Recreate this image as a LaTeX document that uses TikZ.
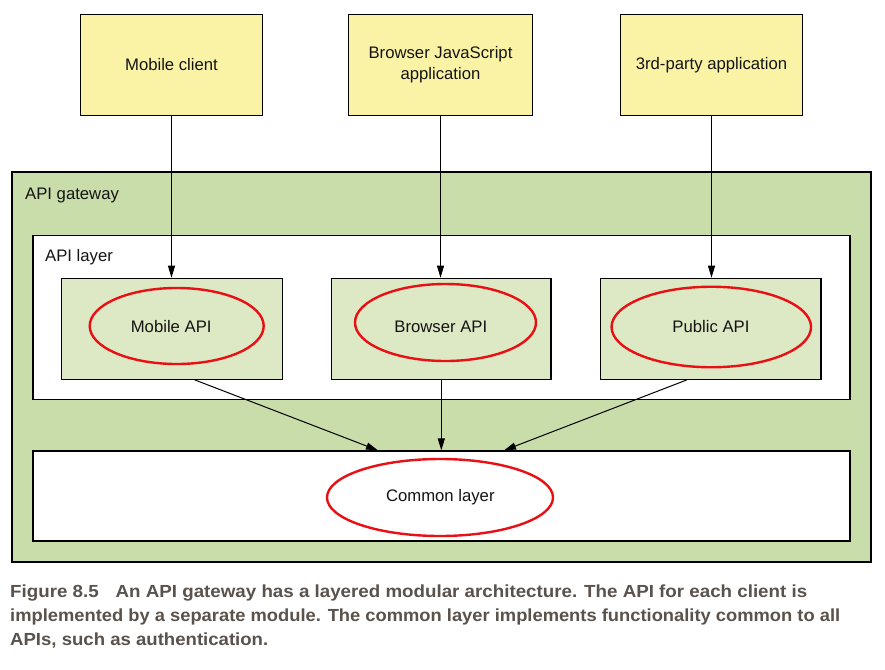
\documentclass[tikz,border=0pt]{standalone}
\usepackage{fontspec}
\setmainfont{Liberation Sans}
\newfontfamily\capfont{Liberation Sans}
\usetikzlibrary{arrows.meta,shapes.geometric}
\definecolor{clientyellow}{RGB}{250,243,166}
\definecolor{gwgreen}{RGB}{201,221,170}
\definecolor{modgreen}{RGB}{221,232,196}
\definecolor{ellred}{RGB}{232,16,20}
\definecolor{captext}{RGB}{90,82,76}
\definecolor{txt}{RGB}{20,20,20}
\tikzset{
  boxline/.style={draw=black, line width=1.2pt},
  clientbox/.style={boxline, fill=clientyellow, minimum width=182pt, minimum height=101pt, inner sep=0pt},
  modbox/.style={boxline, fill=modgreen, minimum width=221pt, minimum height=101pt, inner sep=0pt},
  apiell/.style={ellipse, draw=ellred, line width=2.4pt, inner sep=0pt},
  lbl/.style={font=\fontsize{16.7pt}{21pt}\selectfont, text=txt, inner sep=0pt, align=center},
  arr/.style={line width=1pt, -{Triangle[length=12pt,width=7pt]}},
  capline/.style={anchor=base west, inner sep=0pt, text=captext, font=\capfont\bfseries\fontsize{17.5pt}{24pt}\selectfont}
}
\begin{document}
\begin{tikzpicture}[x=1pt,y=-1pt]
\useasboundingbox (0,0) rectangle (885,669);
\fill[white] (0,0) rectangle (885,669);

% gateway and layers
\node[boxline, fill=gwgreen, minimum width=859pt, minimum height=390pt, inner sep=0pt] (gw) at (441.5,367) {};
\node[boxline, fill=white, minimum width=817pt, minimum height=163.5pt, inner sep=0pt] (al) at (441.5,317.5) {};
\node[boxline, fill=white, minimum width=817pt, minimum height=90pt, inner sep=0pt] (cl) at (441.5,496) {};
\node[lbl, anchor=base west] (gwlbl) at (25,199) {API gateway};
\node[lbl, anchor=base west] (allbl) at (45,261.7) {API layer};

% clients
\node[clientbox] (mc) at (171.5,64.8) {};
\node[clientbox, minimum width=184pt] (bc) at (440.5,64.8) {};
\node[clientbox] (pc) at (711.5,64.8) {};
\node[lbl] (mct) at (mc.center) {Mobile client};
\node[lbl] (bct) at (bc.center) {Browser JavaScript\\application};
\node[lbl] (pct) at (pc.center) {3rd-party application};

% API modules
\node[modbox] (mb) at (171.8,328.8) {};
\node[modbox, minimum width=219.5pt] (bb) at (441.3,328.8) {};
\node[modbox, minimum width=220.5pt] (pb) at (710.8,328.8) {};
\node[apiell, minimum width=174pt, minimum height=76pt] (me) at (176.7,326) {};
\node[apiell, minimum width=181pt, minimum height=77pt] (be) at (445.5,322.5) {};
\node[apiell, minimum width=199.5pt, minimum height=80.5pt] (pe) at (711.3,327) {};
\node[apiell, fill=white, minimum width=226pt, minimum height=77pt] (ce) at (440,497.5) {};
\node[lbl] (met) at (171.2,326.8) {Mobile API};
\node[lbl] (bet) at (440.8,326.8) {Browser API};
\node[lbl] (pet) at (711,326.8) {Public API};
\node[lbl] (cet) at (440.3,496.7) {Common layer};

% connectors
\draw[arr] (mc.south) -- (mc.south |- mb.north);
\draw[arr] (bc.south) -- (bc.south |- bb.north);
\draw[arr] (pc.south) -- (pc.south |- pb.north);
\draw[arr] ([xshift=23pt]mb.south) -- ([xshift=-63.5pt]cl.north);
\draw[arr] (bb.south) -- (bb.south |- cl.north);
\draw[arr] ([xshift=-24pt]pb.south) -- ([xshift=62.5pt]cl.north);

% caption
\node[capline] (cap1) at (10,597.7) {\resizebox{797pt}{\height}{Figure 8.5\hspace{0.9em}An API gateway has a layered modular architecture. The API for each client is}};
\node[capline] (cap2) at (10,621.7) {\resizebox{830pt}{\height}{implemented by a separate module. The common layer implements functionality common to all}};
\node[capline] (cap3) at (10,645.7) {\resizebox{258pt}{\height}{APIs, such as authentication.}};
\end{tikzpicture}
\end{document}
